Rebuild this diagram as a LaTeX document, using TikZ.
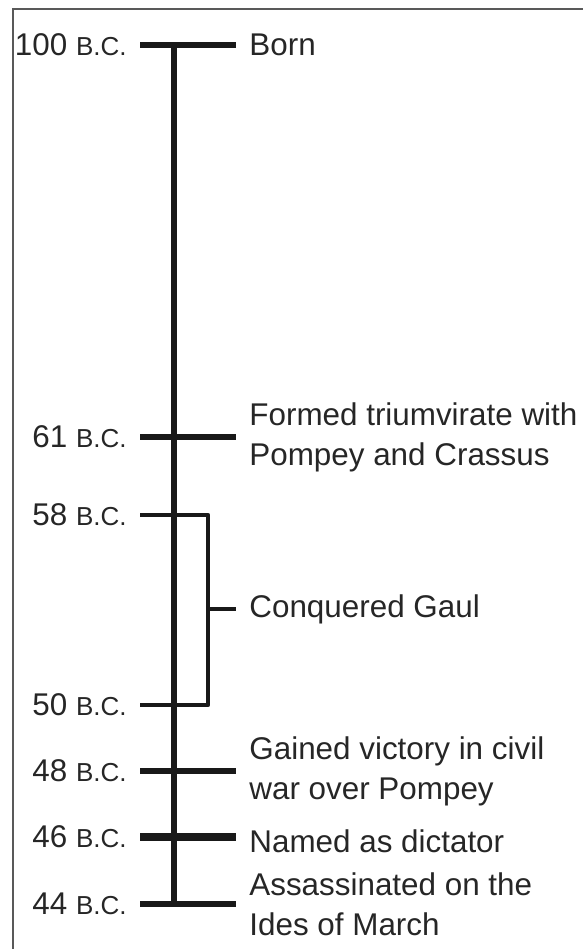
\documentclass[tikz,border=0pt]{standalone}
\usepackage{fontspec}
\setmainfont{Liberation Sans}
\usetikzlibrary{positioning}

\newcommand\BC{{\fontsize{13}{15}\selectfont B.C.}}

\begin{document}
\begin{tikzpicture} [
            x=0.5pt, y=-0.5pt,
            date/.style    = { anchor=east, inner sep=0pt, text=black!85,
                               font=\fontsize{15.7}{19}\selectfont },
            event/.style   = { anchor=west, inner sep=0pt, align=left, text=black!85,
                               font=\fontsize{15.7}{20}\selectfont },
            axis/.style    = { draw=black!90, line width=3pt },
            yeartick/.style= { draw=black!90, line width=3pt },
            bracket/.style = { draw=black!90, line width=2.3pt, line join=round },
            frame/.style   = { draw=black!65, line width=1.2pt },
          ]
          \useasboundingbox (0,0) rectangle (583,949);
          % frame (open at right and bottom)
          \draw [frame] (13,949) -- (13,9) -- (583,9);

          % axis
          \coordinate (top) at (174,45);
          \coordinate (bot) at (174,905);
          \draw [axis] (top) -- (bot);

          % dates
          \node (d100) [date] at (127,45)  {100 \BC};
          \node (d61)  [date] at (127,437) {61 \BC};
          \node (d58)  [date] at (127,515) {58 \BC};
          \node (d50)  [date] at (127,705) {50 \BC};
          \node (d48)  [date] at (127,771) {48 \BC};
          \node (d46)  [date] at (127,837) {46 \BC};
          \node (d44)  [date] at (127,904) {44 \BC};

          % events
          \node (born)  [event] at (249,45)  {Born};
          \node (trium) [event] at (249,437) {Formed triumvirate with\\Pompey and Crassus};
          \node (gaul)  [event] at (249,609) {Conquered Gaul};
          \node (civil) [event] at (249,771) {Gained victory in civil\\war over Pompey};
          \node (dict)  [event] at (249,841) {Named as dictator};
          \node (ides)  [event] at (249,904) {Assassinated on the\\Ides of March};

          % ticks
          \foreach \y in {45,437,771,904}
            \draw [yeartick] (140,\y) -- (236,\y);
          \draw [yeartick, line width=4pt] (140,837) -- (236,837);

          % bracket for the Gaul years
          \coordinate (b58) at (208,515);
          \coordinate (b50) at (208,705);
          \coordinate (bmid) at (208,609);
          \draw [bracket] (140,515) -- (b58) -- (b50) -- (140,705);
          \draw [bracket] (bmid) -- (236,609);
        \end{tikzpicture}
\end{document}
